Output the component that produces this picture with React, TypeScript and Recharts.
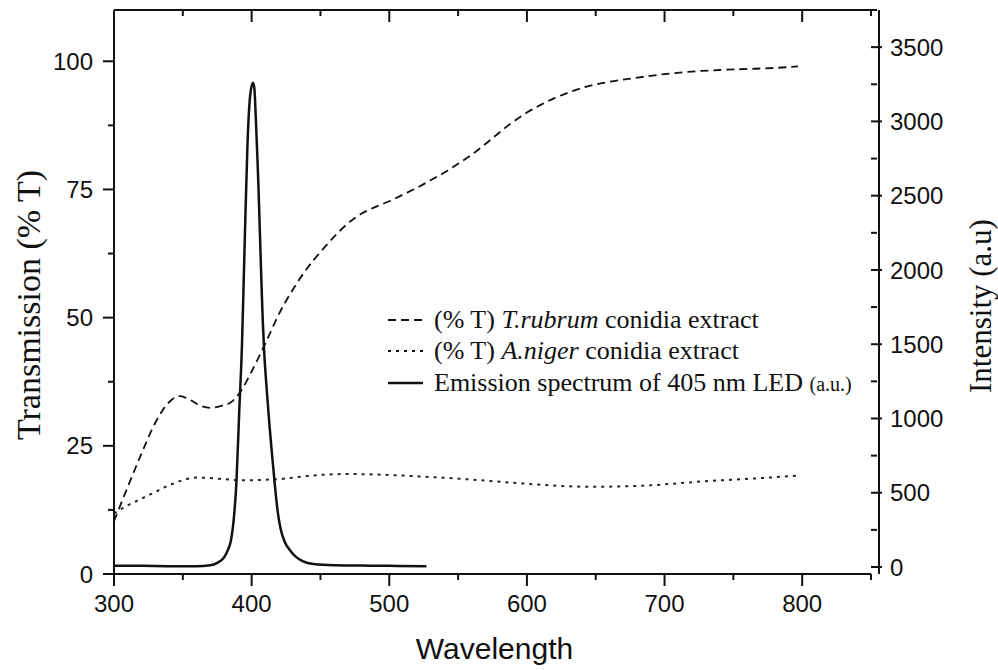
import { Legend, Line, LineChart, XAxis, YAxis } from "recharts";

// wavelength (nm) / % transmission, T. rubrum conidia extract
const rubrumWavelength = [
  300, 310, 320, 330, 340, 348, 355, 362, 370, 378, 385, 392, 400, 410, 420, 430, 440, 450, 460,
  470, 480, 490, 500, 510, 520, 530, 540, 550, 560, 570, 580, 590, 600, 610, 620, 630, 640, 650,
  660, 680, 700, 720, 740, 760, 780, 797,
];
const rubrumT = [
  10.3, 17, 23.5, 29.5, 33.5, 34.7, 34.0, 32.9, 32.4, 32.8, 33.5, 35.6, 39.5, 45, 50.8, 55.5, 59.5,
  62.8, 65.8, 68.4, 70.3, 71.6, 72.7, 74, 75.3, 76.8, 78.3, 80, 81.8, 83.9, 86.1, 88.2, 90.0, 91.5,
  92.8, 93.9, 94.8, 95.5, 96.0, 96.8, 97.5, 98.0, 98.3, 98.5, 98.7, 99.0,
];

// A. niger conidia extract
const nigerWavelength = [
  300, 310, 320, 330, 340, 350, 360, 370, 380, 390, 400, 410, 420, 430, 440, 455, 470, 490, 510,
  530, 550, 570, 590, 610, 630, 650, 670, 690, 710, 730, 750, 770, 797,
];
const nigerT = [
  11.8, 13.4, 14.7, 16.0, 17.3, 18.3, 18.8, 18.7, 18.5, 18.3, 18.3, 18.4, 18.5, 18.8, 19.1, 19.4,
  19.5, 19.4, 19.2, 18.9, 18.6, 18.2, 17.8, 17.4, 17.1, 17.0, 17.1, 17.3, 17.7, 18.1, 18.4, 18.7,
  19.2,
];

// 405 nm LED emission (a.u.)
const ledWavelength = [
  300, 320, 340, 360, 370, 375, 380, 383, 385, 387, 389, 391, 393, 395, 397, 399, 401, 402, 403,
  404, 405, 406, 407, 408, 409, 411, 413, 415, 417, 419, 421, 424, 428, 432, 437, 445, 460, 480,
  500, 527,
];
const ledIntensity = [
  8, 8, 6, 6, 12, 28, 65, 120, 180, 320, 580, 1050, 1500, 2200, 2850, 3180, 3260, 3220, 3030, 2800,
  2550, 2250, 1950, 1680, 1470, 1190, 950, 740, 540, 370, 260, 170, 112, 70, 40, 20, 12, 10, 8, 6,
];

const xTicks = [300, 350, 400, 450, 500, 550, 600, 650, 700, 750, 800, 850];
const leftTicks = [0, 12.5, 25, 37.5, 50, 62.5, 75, 87.5, 100];
const rightTicks = [
  0, 250, 500, 750, 1000, 1250, 1500, 1750, 2000, 2250, 2500, 2750, 3000, 3250, 3500, 3750,
];

const rubrumData = rubrumWavelength.map((w, i) => ({ w, t: rubrumT[i] }));
const nigerData = nigerWavelength.map((w, i) => ({ w, t: nigerT[i] }));
const ledData = ledWavelength.map((w, i) => ({ w, v: ledIntensity[i] }));

const SANS = '"Liberation Sans", Arial, sans-serif';
const SERIF = '"Liberation Serif", "Times New Roman", serif';
const INK = "#111";

function BottomTick({ x, y, payload }: any) {
  const major = payload.value % 100 === 0;
  return (
    <g>
      <line x1={x} x2={x} y1={y} y2={y + (major ? 12 : 6)} stroke={INK} strokeWidth={2} />
      {major && (
        <text x={x} y={y + 38} textAnchor="middle" fontSize={24} fontFamily={SANS} fill={INK}>
          {payload.value}
        </text>
      )}
    </g>
  );
}

function TopTick({ x, y, payload }: any) {
  const major = payload.value % 100 === 0;
  return <line x1={x} x2={x} y1={y} y2={y + (major ? 12 : 6)} stroke={INK} strokeWidth={2} />;
}

function LeftTick({ x, y, payload }: any) {
  const major = payload.value % 25 === 0;
  return (
    <g>
      <line x1={x - (major ? 11 : 6)} x2={x} y1={y} y2={y} stroke={INK} strokeWidth={2} />
      {major && (
        <text x={x - 21} y={y} dy="0.36em" textAnchor="end" fontSize={24} fontFamily={SANS} fill={INK}>
          {payload.value}
        </text>
      )}
    </g>
  );
}

function RightTick({ x, y, payload }: any) {
  const major = payload.value % 500 === 0;
  return (
    <g>
      <line x1={x} x2={x + (major ? 11 : 6)} y1={y} y2={y} stroke={INK} strokeWidth={2} />
      {major && (
        <text x={x + 19} y={y} dy="0.36em" textAnchor="start" fontSize={24} fontFamily={SANS} fill={INK}>
          {payload.value}
        </text>
      )}
    </g>
  );
}

function LegendBox() {
  const row = { display: "flex", alignItems: "center", height: 31.5, whiteSpace: "nowrap" as const };
  const sample = (dash: string | undefined, width: number) => (
    <svg width={36} height={10} style={{ marginRight: 10 }}>
      <line x1={0} x2={35} y1={5} y2={5} stroke={INK} strokeWidth={width} strokeDasharray={dash} />
    </svg>
  );
  return (
    <div style={{ fontFamily: SERIF, fontSize: 26, color: INK }}>
      <div style={row}>
        {sample("8 5", 2)}
        <span>
          (% T) <i>T.rubrum</i> conidia extract
        </span>
      </div>
      <div style={row}>
        {sample("3 5", 2)}
        <span>
          (% T) <i>A.niger</i> conidia extract
        </span>
      </div>
      <div style={row}>
        {sample(undefined, 2.5)}
        <span>
          Emission spectrum of 405 nm LED <span style={{ fontSize: 20 }}>(a.u.)</span>
        </span>
      </div>
    </div>
  );
}

export default function App() {
  return (
    <div style={{ position: "absolute", left: 0, top: 0, background: "#fff" }}>
      <style>{`.shift-right { transform: translate(8px, 0px); }`}</style>
      <LineChart width={998} height={670} margin={{ top: 9, right: 0, bottom: 0, left: 0 }}>
        <XAxis
          xAxisId="bottom"
          dataKey="w"
          type="number"
          domain={[300, 850]}
          allowDataOverflow
          ticks={xTicks}
          interval={0}
          height={96}
          tickSize={0}
          tickMargin={0}
          tickLine={false}
          tick={<BottomTick />}
          axisLine={{ stroke: INK, strokeWidth: 2 }}
          label={{
            content: ({ viewBox }: any) => (
              <text
                x={viewBox.x + viewBox.width / 2 + 2}
                y={viewBox.y + 85}
                textAnchor="middle"
                fontSize={30}
                fontFamily={SANS}
                fill={INK}
              >
                Wavelength
              </text>
            ),
          }}
        />
        <XAxis
          xAxisId="top"
          orientation="top"
          dataKey="w"
          type="number"
          domain={[300, 850]}
          allowDataOverflow
          ticks={xTicks}
          interval={0}
          height={1}
          tickSize={0}
          tickMargin={0}
          tickLine={false}
          tick={<TopTick />}
          axisLine={{ stroke: INK, strokeWidth: 2 }}
        />
        <YAxis
          yAxisId="left"
          type="number"
          domain={[0, 110]}
          allowDataOverflow
          ticks={leftTicks}
          interval={0}
          width={114}
          tickSize={0}
          tickMargin={0}
          tickLine={false}
          tick={<LeftTick />}
          axisLine={{ stroke: INK, strokeWidth: 2 }}
          label={{
            content: ({ viewBox }: any) => {
              const cx = viewBox.x + 28;
              const cy = viewBox.y + viewBox.height / 2 + 13;
              return (
                <text
                  x={cx}
                  y={cy}
                  transform={`rotate(-90 ${cx} ${cy})`}
                  textAnchor="middle"
                  dominantBaseline="central"
                  fontSize={34}
                  fontFamily={SERIF}
                  fill={INK}
                >
                  Transmission (% T)
                </text>
              );
            },
          }}
        />
        <YAxis
          yAxisId="right"
          orientation="right"
          className="shift-right"
          type="number"
          domain={[-47, 3750]}
          allowDataOverflow
          ticks={rightTicks}
          interval={0}
          width={127}
          tickSize={0}
          tickMargin={0}
          tickLine={false}
          tick={<RightTick />}
          axisLine={{ stroke: INK, strokeWidth: 2 }}
          label={{
            content: ({ viewBox }: any) => {
              const cx = viewBox.x + 101;
              const cy = viewBox.y + viewBox.height / 2 + 14;
              return (
                <text
                  x={cx}
                  y={cy}
                  transform={`rotate(-90 ${cx} ${cy})`}
                  textAnchor="middle"
                  dominantBaseline="central"
                  fontSize={31}
                  fontFamily={SERIF}
                  fill={INK}
                >
                  Intensity (a.u)
                </text>
              );
            },
          }}
        />
        <Legend
          layout="vertical"
          align="center"
          verticalAlign="middle"
          content={<LegendBox />}
          wrapperStyle={{ left: 388, top: 304, width: "auto" }}
        />
        <Line
          data={rubrumData}
          xAxisId="bottom"
          yAxisId="left"
          dataKey="t"
          type="monotone"
          stroke={INK}
          strokeWidth={1.8}
          strokeDasharray="8 5"
          dot={false}
          activeDot={false}
          isAnimationActive={false}
        />
        <Line
          data={nigerData}
          xAxisId="bottom"
          yAxisId="left"
          dataKey="t"
          type="monotone"
          stroke="#222"
          strokeWidth={2}
          strokeDasharray="3 5"
          dot={false}
          activeDot={false}
          isAnimationActive={false}
        />
        <Line
          data={ledData}
          xAxisId="bottom"
          yAxisId="right"
          dataKey="v"
          type="monotone"
          stroke={INK}
          strokeWidth={2.5}
          dot={false}
          activeDot={false}
          isAnimationActive={false}
        />
      </LineChart>
    </div>
  );
}
